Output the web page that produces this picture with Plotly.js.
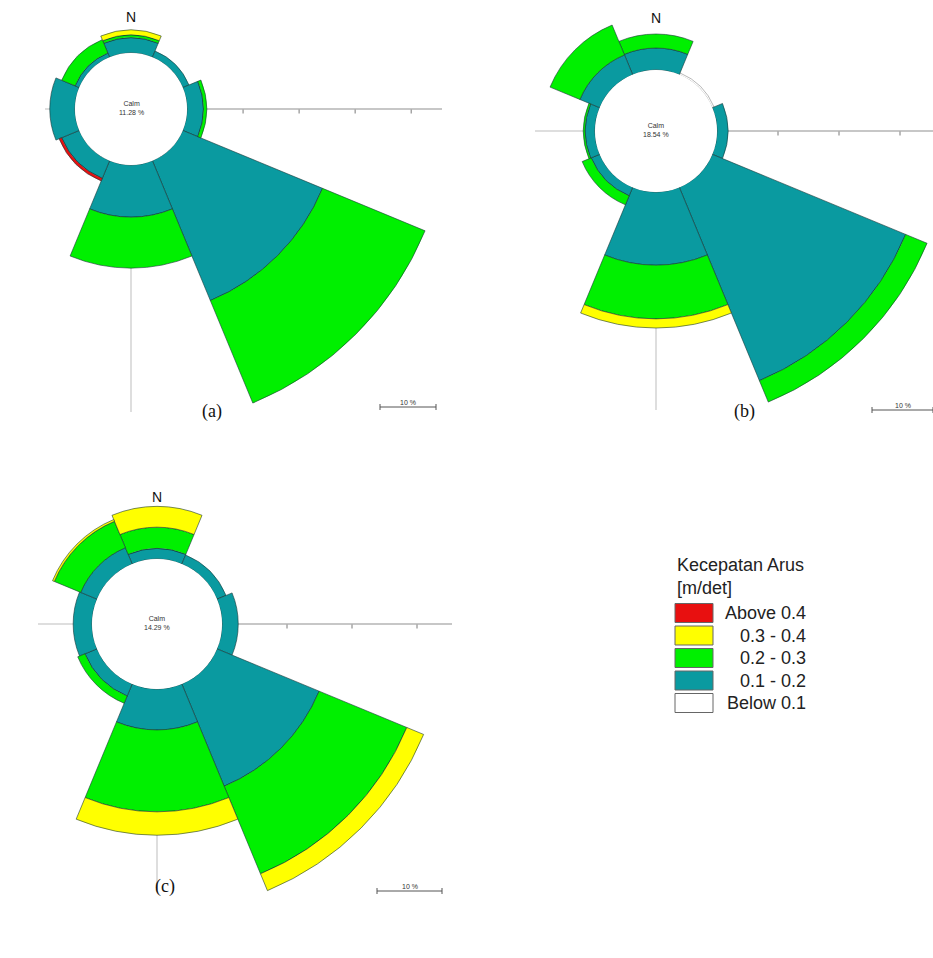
<!DOCTYPE html>
<html>
<head>
<meta charset="utf-8">
<script src="https://cdn.plot.ly/plotly-3.0.1.min.js"></script>
<style>
html,body{margin:0;padding:0;background:#fff;width:933px;height:958px;overflow:hidden;position:relative;}
.clip{position:absolute;overflow:hidden;}
.rose{position:absolute;}
#overlay{position:absolute;left:0;top:0;width:933px;height:958px;pointer-events:none;}
</style>
</head>
<body>
<div id="clip_a" class="clip"><div id="rose_a" class="rose"></div></div>
<div id="clip_b" class="clip"><div id="rose_b" class="rose"></div></div>
<div id="clip_c" class="clip"><div id="rose_c" class="rose"></div></div>
<div id="overlay"></div>
<script>
// ---------------- DATA ----------------
const directions   = ['N','NE','E','SE','S','SW','W','NW'];
const directionDeg = [0, 45, 90, 135, 180, 225, 270, 315];
const speedClasses = ['Below 0.1','0.1 - 0.2','0.2 - 0.3','0.3 - 0.4','Above 0.4'];
const legendOrder  = ['Above 0.4','0.3 - 0.4','0.2 - 0.3','0.1 - 0.2','Below 0.1'];
const legendTitleLines = ['Kecepatan Arus','[m/det]'];
const panelLabels  = ['(a)','(b)','(c)'];
const radialTicks  = [10, 20, 30, 40];   // % frequency
const scaleBarPct  = 10;                 // "10 %"

// (a)
const calmA    = 11.28;
const aBelow01 = [0,   0,   0,   0,    0,   0,   0,   0  ];
const a01to02  = [2.7, 1.2, 2.9, 27.0, 9.3, 3.4, 4.5, 0.8];
const a02to03  = [0.5, 0,   0.6, 19.8, 9.1, 0,   0,   2.6];
const a03to04  = [0.9, 0,   0,   0,    0,   0,   0,   0  ];
const aAbove04 = [0,   0,   0,   0,    0,   0.5, 0,   0  ];

// (b)
const calmB    = 18.54;
const bBelow01 = [0,   0.3, 0,   0,    0,    0,   0,   0  ];
const b01to02  = [3.6, 0,   1.8, 34.3, 12.0, 1.5, 1.6, 3.5];
const b02to03  = [2.3, 0,   0,   3.8,  8.8,  1.6, 0.3, 5.3];
const b03to04  = [0,   0,   0,   0,    1.5,  0,   0,   0  ];
const bAbove04 = [0,   0,   0,   0,    0,    0,   0,   0  ];

// (c)
const calmC    = 14.29;
const cBelow01 = [0,   0,   0,   0,    0,    0,   0,   0  ];
const c01to02  = [1.6, 1.5, 2.5, 17.0, 6.3,  2.0, 2.9, 2.7];
const c02to03  = [3.3, 0,   0,   14.6, 12.6, 1.2, 0,   4.4];
const c03to04  = [3.2, 0,   0,   2.8,  3.6,  0,   0,   0.3];
const cAbove04 = [0,   0,   0,   0,    0,    0,   0,   0  ];

// ---------------- STYLE / LAYOUT ----------------
const classColors = {
  'Below 0.1':'#ffffff', '0.1 - 0.2':'#0a9aa0', '0.2 - 0.3':'#00f000',
  '0.3 - 0.4':'#ffff00', 'Above 0.4':'#e81010'
};
const FONT = 'Liberation Sans, Arial, sans-serif';
const SERIF = 'Liberation Serif, Times New Roman, serif';

// page-pixel placement of each rose (layout only)
const panelBox = {
  a:{cx:131, cy:109, unit:56, rmax:48, clip:[45,0,442,412],  nY:17,  bar:{x:380,y:407}, cap:{x:212,y:411}},
  b:{cx:656, cy:131, unit:61, rmax:40, clip:[535,0,933,410], nY:18,  bar:{x:872,y:410}, cap:{x:744,y:411}},
  c:{cx:157, cy:624, unit:65, rmax:36, clip:[38,488,452,892],nY:497, bar:{x:377,y:891}, cap:{x:165,y:886}}
};

const panels = [
  {key:'a', calm:calmA, series:[aBelow01,a01to02,a02to03,a03to04,aAbove04]},
  {key:'b', calm:calmB, series:[bBelow01,b01to02,b02to03,b03to04,bAbove04]},
  {key:'c', calm:calmC, series:[cBelow01,c01to02,c02to03,c03to04,cAbove04]}
];

panels.forEach(function(p){
  const box = panelBox[p.key];
  const R = box.unit * (1 + box.rmax/10);
  const size = Math.round(2*R);
  const clip = document.getElementById('clip_'+p.key);
  clip.style.left = box.clip[0]+'px';
  clip.style.top = box.clip[1]+'px';
  clip.style.width = (box.clip[2]-box.clip[0])+'px';
  clip.style.height = (box.clip[3]-box.clip[1])+'px';
  const el = document.getElementById('rose_'+p.key);
  el.style.left = (box.cx - size/2 - box.clip[0])+'px';
  el.style.top = (box.cy - size/2 - box.clip[1])+'px';
  el.style.width = size+'px';
  el.style.height = size+'px';

  const traces = p.series.map(function(vals, k){
    const cls = speedClasses[k];
    return {
      type:'barpolar', name:cls, r:vals, theta:directionDeg,
      width: 360/directions.length,
      text: directions,
      marker:{color:classColors[cls], line:{color: cls==='Below 0.1' ? '#9a9a9a' : 'rgba(25,55,55,0.85)', width:0.7}},
      hovertemplate:'%{text}: %{r}%<extra>'+cls+'</extra>'
    };
  });

  const layout = {
    width:size, height:size,
    margin:{l:0,r:0,t:0,b:0,pad:0},
    paper_bgcolor:'rgba(0,0,0,0)',
    showlegend:false,
    polar:{
      domain:{x:[0,1],y:[0,1]},
      bgcolor:'rgba(0,0,0,0)',
      hole: 1/(1+box.rmax/10),
      barmode:'stack',
      radialaxis:{
        range:[0,box.rmax], angle:0, showline:true, linecolor:'#b0b0b0', linewidth:1,
        showgrid:false, ticks:'outside', ticklen:4, tickcolor:'#7a7a7a', tickwidth:1,
        tickmode:'array', tickvals:radialTicks, showticklabels:false, layer:'below traces'
      },
      angularaxis:{
        direction:'clockwise', rotation:90, thetaunit:'degrees',
        showline:false, showticklabels:false, ticks:'',
        showgrid:true, gridcolor:'#bdbdbd', gridwidth:1,
        tickmode:'array', tickvals:[90,180,270]
      }
    }
  };
  Plotly.newPlot(el, traces, layout, {staticPlot:true, displayModeBar:false});
});

// ---------------- OVERLAY (texts, scale bars, legend) ----------------
const ann = [];
const shapes = [];
panels.forEach(function(p, i){
  const box = panelBox[p.key];
  ann.push({x:box.cx, y:box.nY, text:'N', showarrow:false, xanchor:'center', yanchor:'middle',
            font:{family:FONT, size:14, color:'#111'}});
  ann.push({x:box.cx, y:box.cy-1, text:'Calm<br>'+p.calm.toFixed(2)+' %', showarrow:false,
            xanchor:'center', yanchor:'middle', font:{family:FONT, size:7, color:'#333'}});
  ann.push({x:box.cap.x, y:box.cap.y, text:panelLabels[i], showarrow:false, xanchor:'center', yanchor:'middle',
            font:{family:SERIF, size:18, color:'#111'}});
  const L = box.unit*scaleBarPct/10;
  const bx = box.bar.x, by = box.bar.y;
  shapes.push({type:'line', x0:bx, x1:bx+L, y0:by, y1:by, line:{color:'#555', width:1}});
  shapes.push({type:'line', x0:bx, x1:bx, y0:by-3, y1:by+3, line:{color:'#555', width:1}});
  shapes.push({type:'line', x0:bx+L, x1:bx+L, y0:by-3, y1:by+3, line:{color:'#555', width:1}});
  ann.push({x:bx+L/2, y:by-5, text:scaleBarPct+' %', showarrow:false, xanchor:'center', yanchor:'middle',
            font:{family:FONT, size:7, color:'#333'}});
});

// legend
const legX = 675, legTitleY = 565, legTitleDy = 23;
legendTitleLines.forEach(function(t, j){
  ann.push({x:legX, y:legTitleY + j*legTitleDy, text:t, showarrow:false, xanchor:'left', yanchor:'middle',
            font:{family:FONT, size:18, color:'#222'}});
});
const sw0 = 613, swDy = 22.5, swW = 38, swH = 19, labelRight = 808;
legendOrder.forEach(function(cls, j){
  const yc = sw0 + j*swDy;
  shapes.push({type:'rect', x0:legX, x1:legX+swW, y0:yc-swH/2, y1:yc+swH/2,
               fillcolor:classColors[cls], line:{color:'#666', width:1}});
  ann.push({x:labelRight, y:yc, text:cls, showarrow:false, xanchor:'right', yanchor:'middle',
            font:{family:FONT, size:18, color:'#222'}});
});

Plotly.newPlot('overlay', [], {
  width:933, height:958, margin:{l:0,r:0,t:0,b:0,pad:0},
  paper_bgcolor:'rgba(0,0,0,0)', plot_bgcolor:'rgba(0,0,0,0)',
  xaxis:{range:[0,933], visible:false, fixedrange:true},
  yaxis:{range:[958,0], visible:false, fixedrange:true},
  font:{family:FONT},
  showlegend:false,
  annotations:ann, shapes:shapes
}, {staticPlot:true, displayModeBar:false});
</script>
</body>
</html>
